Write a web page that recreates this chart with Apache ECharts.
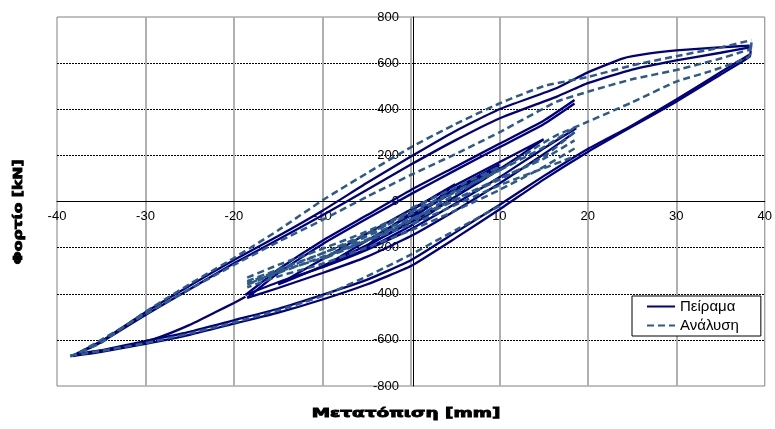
<!DOCTYPE html>
<html><head><meta charset="utf-8">
<script src="https://cdn.jsdelivr.net/npm/echarts@6/dist/echarts.min.js"></script>
<style>html,body{margin:0;padding:0;background:#fff}#c{width:775px;height:429px}</style>
</head><body><div id="c"></div>
<script>
// ---- tick labels ----
const xTicks = [-40, -30, -20, -10, 0, 10, 20, 30, 40];
const yTicks = [-800, -600, -400, -200, 0, 200, 400, 600, 800];
const legendNames = ['Πείραμα', 'Ανάλυση'];
const xTitle = 'Μετατόπιση [mm]';
const yTitle = 'Φορτίο [kN]';

// ---- Experiment (displacement mm, load kN) ----
const expBigUp1 = [[-38.2,-668],[-35,-605],[-30,-480],[-25,-365],[-20,-254],[-15,-150],[-10,-40],[-5,80],[0,195],[5,305],[10,400],[16.5,492],[20,560],[24,621],[27,642],[30,655],[34,666],[38.3,676]];
const expBigUp2 = [[-37.8,-662],[-35,-610],[-30,-492],[-25,-380],[-20,-268],[-15,-165],[-10,-60],[-5,50],[0,160],[5,265],[10,360],[16.5,455],[20,513],[25,572],[30,612],[35,645],[38.3,668]];
const expBigDown1 = [[38.4,655],[38.3,628],[35,550],[30,433],[24,303],[20,215],[15,95],[10,-35],[5,-160],[0,-280],[-5,-360],[-10,-425],[-15,-482],[-20,-530],[-25,-578],[-30,-617],[-35,-652],[-38.2,-670]];
const expBigDown2 = [[38.4,640],[35,560],[30,442],[25,330],[20,228],[15,110],[10,-15],[5,-135],[0,-255],[-5,-340],[-10,-405],[-15,-465],[-20,-515],[-25,-565],[-30,-605],[-35,-645],[-37.8,-662]];
const expFirstNeg = [[-18.7,-413],[-20,-440],[-22,-478],[-25,-535],[-28.4,-588],[-32,-630]];
const exp18Up1 = [[-18.7,-405],[-17,-355],[-15,-295],[-10,-170],[-5,-60],[0,50],[5,150],[10,250],[15,350],[18.5,440]];
const exp18Up2 = [[-18.5,-418],[-15,-310],[-10,-185],[-5,-75],[0,32],[5,135],[10,235],[15,335],[18.5,425]];
const exp18Down1 = [[18.7,318],[15,230],[10,105],[5,-10],[0,-120],[-5,-210],[-10,-285],[-15,-350],[-18.7,-405]];
const exp18Down2 = [[18.5,300],[15,205],[10,78],[5,-40],[0,-150],[-5,-240],[-10,-310],[-15,-375],[-18.5,-418]];
const exp15 = [[-15,-360],[-10,-250],[-5,-140],[0,-35],[5,70],[10,170],[15,270],[12,190],[8,90],[5,20],[0,-90],[-5,-190],[-10,-280],[-15,-360]];
const exp10 = [[0,-70],[5,45],[10,150],[8,100],[5,20],[0,-105],[-5,-205],[-10,-285],[-8,-240],[-5,-170],[0,-60],[5,55],[10,160]];
const exp5 = [[0,-40],[3,30],[5,75],[3,10],[0,-80],[-3,-150],[-5,-195],[-3,-130],[0,-50]];

// ---- Analysis ----
const anaBigUp1 = [[-38.5,-672],[-35,-612],[-30,-478],[-25,-358],[-20,-245],[-15,-125],[-10,5],[-5,122],[0,235],[5,335],[10,425],[15,500],[20,540],[25,590],[30,630],[35,668],[38.5,700]];
const anaBigUp2 = [[-37.5,-655],[-35,-600],[-30,-488],[-25,-380],[-20,-275],[-15,-175],[-10,-80],[-5,20],[0,115],[5,205],[10,300],[16.5,433],[20,476],[25,530],[30,570],[35,620],[37.5,650],[38.5,660]];
const anaBigDown1 = [[38.5,690],[38.2,628],[33.7,563],[30,520],[25,430],[20,346],[16.5,288],[15,255],[10,135],[5,40],[0,-55],[-5,-140],[-10,-225],[-15,-300],[-18.5,-352]];
const anaBigDown2 = [[10,-20],[5,-125],[0,-230],[-5,-325],[-10,-410],[-15,-472],[-20,-525],[-25,-572],[-30,-614],[-35,-648],[-38.5,-668]];
const ana18Up1 = [[-18.5,-330],[-15,-275],[-10,-205],[-5,-130],[0,-45],[5,45],[10,135],[15,235],[18.5,320]];
const ana18Down1 = [[18.5,300],[15,195],[10,95],[5,5],[0,-85],[-5,-165],[-10,-245],[-15,-305],[-18.5,-360]];
const ana18Up2 = [[-18.5,-345],[-15,-295],[-10,-225],[-5,-150],[0,-75],[5,10],[10,100],[15,185],[18.5,265]];
const ana18Down2 = [[18.5,230],[15,150],[10,50],[5,-40],[0,-125],[-5,-200],[-10,-270],[-15,-325],[-18.5,-372]];
const ana18Up3 = [[-18.5,-360],[-10,-240],[0,-100],[10,70],[18.5,195]];
const ana10 = [[0,-30],[5,60],[10,150],[5,30],[0,-80],[-5,-170],[-10,-250],[-5,-150],[0,-40]];

const expBranches = [expBigUp1, expBigUp2, expBigDown1, expBigDown2, expFirstNeg, exp18Up1, exp18Up2, exp18Down1, exp18Down2, exp15, exp10, exp5];
const anaBranches = [anaBigUp1, anaBigUp2, anaBigDown1, anaBigDown2, ana18Up1, ana18Down1, ana18Up2, ana18Down2, ana18Up3, ana10];

const expColor = '#000080';
const anaColor = '#2c5a8a';

const series = [];
expBranches.forEach(d => series.push({
  name: legendNames[0], type: 'line', data: d, symbol: 'none', smooth: 0.15,
  lineStyle: { color: expColor, width: 2.3 }, itemStyle: { color: expColor }, z: 2
}));
anaBranches.forEach(d => series.push({
  name: legendNames[1], type: 'line', data: d, symbol: 'none', smooth: 0.15,
  lineStyle: { color: anaColor, width: 2.5, type: [7, 4] }, itemStyle: { color: anaColor }, z: 3
}));

const chart = echarts.init(document.getElementById('c'), null, { renderer: 'canvas' });
chart.setOption({
  animation: false,
  backgroundColor: '#fff',
  grid: { left: 57, right: 6, top: 17, bottom: 43, show: true, borderColor: '#808080', borderWidth: 1 },
  xAxis: {
    type: 'value', min: xTicks[0], max: xTicks[xTicks.length - 1], interval: 10,
    offset: -184.5,
    axisLine: { onZero: false, lineStyle: { color: '#000', width: 1 } },
    axisTick: { show: false },
    axisLabel: { color: '#000', fontSize: 13, fontFamily: 'Liberation Sans', margin: 8 },
    splitLine: { show: true, showMinLine: false, showMaxLine: false, lineStyle: { color: '#b0b0b0', width: 2 } }
  },
  yAxis: {
    type: 'value', min: yTicks[0], max: yTicks[yTicks.length - 1], interval: 200,
    offset: -356,
    axisLine: { onZero: false, lineStyle: { color: '#000', width: 1 } },
    axisTick: { show: false },
    axisLabel: { color: '#000', fontSize: 13, fontFamily: 'Liberation Sans', margin: 14 },
    splitLine: { show: true, showMinLine: false, showMaxLine: false, lineStyle: { color: '#000', width: 1, type: [2, 1] } }
  },
  legend: {
    data: legendNames, orient: 'vertical', left: 632, top: 296,
    itemWidth: 28, itemHeight: 12, itemGap: 4,
    padding: [3, 22, 3, 14],
    borderColor: '#000', borderWidth: 1, backgroundColor: '#fff',
    itemStyle: { opacity: 0 },
    textStyle: { color: '#000', fontSize: 15, fontFamily: 'Liberation Sans' }
  },
  graphic: [
    { type: 'text', x: 19, y: 212, rotation: Math.PI / 2, scaleX: 1.2,
      style: { text: yTitle, align: 'center', verticalAlign: 'middle', font: 'bold 13px "DejaVu Sans"', fill: '#000', stroke: '#000', lineWidth: 0.9 } },
    { type: 'text', x: 406, y: 414, scaleX: 1.42,
      style: { text: xTitle, align: 'center', verticalAlign: 'middle', font: 'bold 13px "DejaVu Sans"', fill: '#000', stroke: '#000', lineWidth: 0.9 } }
  ],
  series: series
});
</script></body></html>
